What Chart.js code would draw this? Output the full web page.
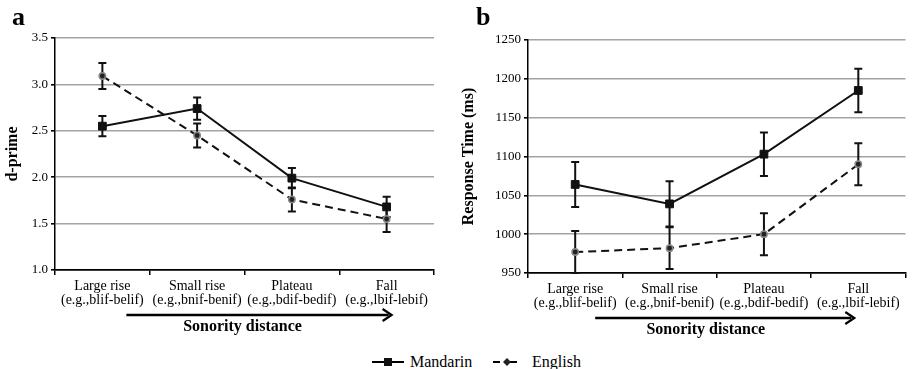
<!DOCTYPE html>
<html>
<head>
<meta charset="utf-8">
<script src="https://cdn.jsdelivr.net/npm/chart.js@4/dist/chart.umd.min.js"></script>
<style>
  body { margin: 0; background: #fff; }
  #wrap { position: relative; width: 912px; height: 369px; overflow: hidden; font-family: "Liberation Serif", serif; }
  canvas { position: absolute; top: 0; }
  .panel { position: absolute; top: 2px; font-weight: bold; font-size: 26px; }
  .leg { position: absolute; top: 352px; font-size: 16px; line-height: 20px; }
</style>
</head>
<body>
<div id="wrap">
  <canvas id="chartA" width="456" height="345" style="left:0"></canvas>
  <canvas id="chartB" width="456" height="345" style="left:456px"></canvas>
  <div class="panel" style="left:12px">a</div>
  <div class="panel" style="left:476px">b</div>
  <svg class="leg" style="left:370px;top:356px" width="36" height="12">
    <line x1="2" y1="6" x2="34" y2="6" stroke="#000" stroke-width="2"/>
    <rect x="14" y="2" width="8" height="8" fill="#111"/>
  </svg>
  <span class="leg" style="left:410px">Mandarin</span>
  <svg class="leg" style="left:490px;top:356px" width="30" height="12">
    <line x1="3" y1="6" x2="10" y2="6" stroke="#000" stroke-width="2"/>
    <line x1="20" y1="6" x2="27" y2="6" stroke="#000" stroke-width="2"/>
    <polygon points="17,2 21,6 17,10 13,6" fill="#222"/>
  </svg>
  <span class="leg" style="left:532px">English</span>
</div>
<script>
const categories = [
  ['Large rise', '(e.g.,blif-belif)'],
  ['Small rise', '(e.g.,bnif-benif)'],
  ['Plateau', '(e.g.,bdif-bedif)'],
  ['Fall', '(e.g.,lbif-lebif)']
];

const mandarinDprime = [2.55, 2.74, 1.99, 1.68];
const mandarinDprimeErr = [0.11, 0.12, 0.11, 0.11];
const englishDprime = [3.09, 2.45, 1.76, 1.55];
const englishDprimeErr = [0.14, 0.13, 0.13, 0.14];

const mandarinRT = [1064, 1039, 1103, 1185];
const mandarinRTErr = [29, 29, 28, 28];
const englishRT = [977, 982, 1000, 1090];
const englishRTErr = [27, 27, 27, 27];

Chart.defaults.font.family = '"Liberation Serif", "Times New Roman", serif';
Chart.defaults.color = '#000';

// error bars, drawn under the markers
const errorBars = {
  id: 'errorBars',
  beforeDatasetsDraw(chart) {
    const ctx = chart.ctx;
    const y = chart.scales.y;
    ctx.save();
    ctx.strokeStyle = '#111';
    ctx.lineWidth = 2;
    chart.data.datasets.forEach((ds, i) => {
      const meta = chart.getDatasetMeta(i);
      meta.data.forEach((pt, j) => {
        const top = y.getPixelForValue(ds.data[j] + ds.err[j]);
        const bot = y.getPixelForValue(ds.data[j] - ds.err[j]);
        ctx.beginPath();
        ctx.moveTo(pt.x, top); ctx.lineTo(pt.x, bot);
        ctx.moveTo(pt.x - 4, top); ctx.lineTo(pt.x + 4, top);
        ctx.moveTo(pt.x - 4, bot); ctx.lineTo(pt.x + 4, bot);
        ctx.stroke();
      });
    });
    ctx.restore();
  }
};

// arrow and "Sonority distance" under the x axis
const sonority = {
  id: 'sonority',
  afterDraw(chart, args, opts) {
    const ctx = chart.ctx;
    const x = chart.scales.x;
    const base = chart.chartArea.bottom;
    const x0 = x.getPixelForValue(0) + opts.startOff;
    const x1 = x.getPixelForValue(3) + opts.endOff;
    const ay = base + 45;
    ctx.save();
    ctx.strokeStyle = '#000';
    ctx.fillStyle = '#000';
    ctx.lineWidth = 2.5;
    ctx.beginPath();
    ctx.moveTo(x0, ay); ctx.lineTo(x1 - 3, ay);
    ctx.stroke();
    ctx.lineWidth = 2.2;
    ctx.beginPath();
    ctx.moveTo(x1 - 9, ay - 6); ctx.lineTo(x1, ay); ctx.lineTo(x1 - 9, ay + 6);
    ctx.stroke();
    ctx.font = 'bold 16px "Liberation Serif"';
    ctx.textAlign = 'center';
    ctx.textBaseline = 'middle';
    ctx.fillText('Sonority distance', (chart.chartArea.left + chart.chartArea.right) / 2 + opts.textOff, base + 57);
    ctx.restore();
  }
};

function makeChart(id, mData, mErr, eData, eErr, cfg) {
  return new Chart(document.getElementById(id), {
    type: 'line',
    plugins: [errorBars, sonority],
    data: {
      labels: categories,
      datasets: [
        {
          label: 'Mandarin',
          data: mData,
          err: mErr,
          borderColor: '#111',
          borderWidth: 2,
          backgroundColor: '#111',
          pointStyle: 'rect',
          pointRadius: 5.5,
          pointBorderWidth: 1,
          tension: 0
        },
        {
          label: 'English',
          data: eData,
          err: eErr,
          borderColor: '#111',
          borderWidth: 2,
          borderDash: [8, 5],
          backgroundColor: '#222',
          pointBorderColor: '#888',
          pointStyle: 'circle',
          pointRadius: 3.2,
          pointBorderWidth: 1.5,
          tension: 0
        }
      ]
    },
    options: {
      responsive: false,
      animation: false,
      layout: { padding: { top: cfg.top, right: cfg.right, left: 0, bottom: 0 } },
      plugins: {
        legend: { display: false },
        tooltip: { enabled: false },
        sonority: cfg.sonority
      },
      scales: {
        x: {
          offset: true,
          grid: { offset: true, drawOnChartArea: false, tickLength: 5, color: '#000', lineWidth: 1.5 },
          border: { color: '#000', width: 1.5 },
          ticks: { font: { size: 14, lineHeight: 1.0 }, padding: 4, maxRotation: 0 },
          afterFit: s => { s.height = cfg.xHeight; }
        },
        y: {
          min: cfg.min,
          max: cfg.max,
          grid: {
            color: c => c.index === 0 ? '#000' : '#a3a3a3',
            lineWidth: 1.6,
            tickLength: 4,
            tickColor: '#000'
          },
          border: { color: '#000', width: 1.5 },
          ticks: {
            stepSize: cfg.step,
            font: { size: 13 },
            padding: 3,
            callback: cfg.fmt
          },
          title: {
            display: true,
            text: cfg.title,
            font: { size: 16, weight: 'bold' },
            padding: { top: 3, bottom: 0 }
          },
          afterFit: s => { s.width = cfg.yWidth; }
        }
      }
    }
  });
}

makeChart('chartA', mandarinDprime, mandarinDprimeErr, englishDprime, englishDprimeErr, {
  top: 38, right: 22, xHeight: 75, yWidth: 55,
  min: 1, max: 3.5, step: 0.5, fmt: v => v.toFixed(1),
  title: 'd-prime',
  sonority: { startOff: 24, endOff: 5, textOff: -2 }
});

makeChart('chartB', mandarinRT, mandarinRTErr, englishRT, englishRTErr, {
  top: 40, right: 5, xHeight: 72, yWidth: 72,
  min: 950, max: 1250, step: 50, fmt: v => v,
  title: 'Response Time (ms)',
  sonority: { startOff: 20, endOff: -4, textOff: -11 }
});
</script>
</body>
</html>
